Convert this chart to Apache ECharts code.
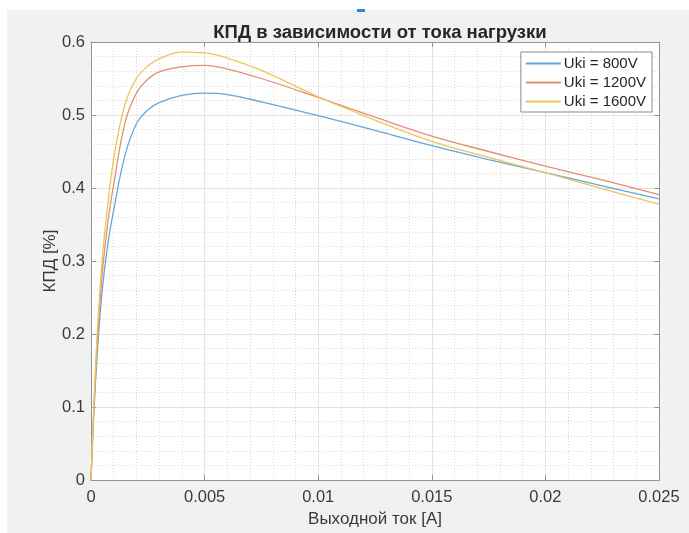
<!DOCTYPE html>
<html>
<head>
<meta charset="utf-8">
<script src="https://cdn.jsdelivr.net/npm/echarts@6/dist/echarts.min.js"></script>
<style>
    html, body { margin: 0; padding: 0; background: #fff; }
    #chart { width: 689px; height: 533px; }
</style>
</head>
<body>
<div id="chart"></div>
<script>
// ток нагрузки, А
var currentA = [0, 0.0001, 0.0002, 0.0003, 0.0005, 0.00075, 0.001, 0.0015, 0.002, 0.0025, 0.003,
    0.004, 0.005, 0.006, 0.0075, 0.01, 0.0125, 0.015, 0.0175, 0.02, 0.0225, 0.025];
// КПД для каждого напряжения
var eff800 = [0, 0.075, 0.135, 0.185, 0.262, 0.325, 0.37, 0.445, 0.488, 0.507, 0.517,
    0.527, 0.530, 0.528, 0.518, 0.499, 0.479, 0.458, 0.439, 0.421, 0.403, 0.385];
var eff1200 = [0, 0.08, 0.145, 0.2, 0.285, 0.355, 0.405, 0.49, 0.53, 0.549, 0.559,
    0.566, 0.568, 0.563, 0.550, 0.524, 0.497, 0.471, 0.450, 0.430, 0.411, 0.391];
var eff1600 = [0, 0.085, 0.155, 0.215, 0.305, 0.38, 0.44, 0.515, 0.55, 0.567, 0.577,
    0.586, 0.585, 0.578, 0.561, 0.525, 0.493, 0.464, 0.442, 0.421, 0.399, 0.378];
var seriesNames = ['Uki = 800V', 'Uki = 1200V', 'Uki = 1600V'];
var seriesColors = ['#62a8dc', '#e48f72', '#efc458'];
var xTicks = { min: 0, max: 0.025, step: 0.005 };
var yTicks = { min: 0, max: 0.6, step: 0.1 };

var chart = echarts.init(document.getElementById('chart'));
var FONT = 'Liberation Sans, Arial, sans-serif';
var TXT = '#3a3a3a';

function pairs(ys) {
    var out = [];
    for (var i = 0; i < currentA.length; i++) {
        out.push([currentA[i], ys[i]]);
    }
    return out;
}

function makeAxis(kind, isMain, ticks) {
    return {
        type: 'value',
        position: kind == 'x' ? (isMain ? 'bottom' : 'top') : (isMain ? 'left' : 'right'),
        min: ticks.min,
        max: ticks.max,
        interval: ticks.step,
        axisLine: { show: true, onZero: false, lineStyle: { color: '#959595', width: 1 } },
        axisTick: { show: true, inside: true, length: 5, lineStyle: { color: '#959595' } },
        axisLabel: {
            show: isMain,
            color: TXT,
            fontFamily: FONT,
            fontSize: 16.5,
            margin: kind == 'x' ? 9 : 6
        },
        minorTick: { show: false, splitNumber: 5 },
        splitLine: { show: isMain, lineStyle: { color: '#e4e4e4', width: 1 } },
        minorSplitLine: { show: isMain, lineStyle: { color: '#d9d9d9', type: [1, 2], width: 1 } }
    };
}

var xMain = makeAxis('x', true, xTicks);
xMain.name = 'Выходной ток [A]';
xMain.nameLocation = 'middle';
xMain.nameGap = 31;
xMain.nameMoveOverlap = false;
xMain.nameTextStyle = { color: TXT, fontFamily: FONT, fontSize: 17 };
var yMain = makeAxis('y', true, yTicks);
yMain.name = 'КПД [%]';
yMain.nameLocation = 'middle';
yMain.nameGap = 32;
yMain.nameMoveOverlap = false;
yMain.nameTextStyle = { color: TXT, fontFamily: FONT, fontSize: 17 };

var series = [];
var effs = [eff800, eff1200, eff1600];
for (var s = 0; s < effs.length; s++) {
    series.push({
        name: seriesNames[s],
        type: 'line',
        xAxisIndex: 0,
        yAxisIndex: 0,
        data: pairs(effs[s]),
        showSymbol: false,
        smooth: 0.4,
        lineStyle: { color: seriesColors[s], width: 1.3 },
        itemStyle: { color: seriesColors[s] }
    });
}

chart.setOption({
    animation: false,
    backgroundColor: '#ffffff',
    graphic: [
        { type: 'rect', z: -100, shape: { x: 7, y: 10, width: 700, height: 540 }, style: { fill: '#f0f1f1' } },
        { type: 'rect', z: 10, shape: { x: 357, y: 9, width: 8, height: 3 }, style: { fill: '#3b80d4' } }
    ],
    title: {
        text: 'КПД в зависимости от тока нагрузки',
        left: 375,
        top: 18,
        textAlign: 'center',
        textStyle: { color: '#262626', fontFamily: FONT, fontSize: 18.5, fontWeight: 'bold' }
    },
    grid: {
        left: 91,
        right: 30,
        top: 42,
        bottom: 48,
        show: true,
        backgroundColor: '#ffffff',
        borderWidth: 0
    },
    legend: {
        data: seriesNames,
        orient: 'vertical',
        right: 37,
        top: 52,
        backgroundColor: '#ffffff',
        borderColor: '#8a8a8a',
        borderWidth: 1,
        borderRadius: 0,
        padding: [4, 6, 3, 5],
        itemGap: 4,
        itemWidth: 35,
        itemHeight: 2,
        icon: 'rect',
        textStyle: { color: '#262626', fontFamily: FONT, fontSize: 15, padding: [0, 0, 0, -2] }
    },
    xAxis: [xMain, makeAxis('x', false, xTicks)],
    yAxis: [yMain, makeAxis('y', false, yTicks)],
    series: series
});
</script>
</body>
</html>
